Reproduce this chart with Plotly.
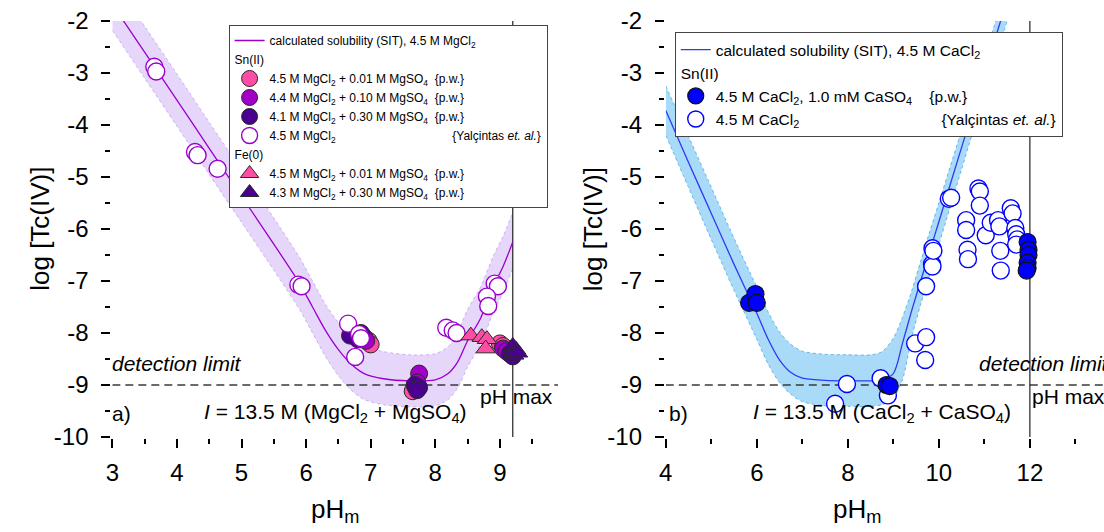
import plotly.graph_objects as go

W, H = 1104, 532

# ---------------- panel a: MgCl2 + MgSO4 systems ----------------
ph_calc_mg = [3.0, 3.5, 4.0, 4.5, 5.0, 5.5, 5.9, 6.1, 6.3, 6.5, 6.7, 6.9, 7.2, 7.6,
              8.0, 8.2, 8.35, 8.5, 8.7, 8.9, 9.05, 9.2]
logtc_calc_mg = [-1.68, -2.6, -3.52, -4.45, -5.37, -6.29, -7.05, -7.5, -7.95, -8.32, -8.6,
                 -8.78, -8.88, -8.92, -8.9, -8.78, -8.55, -8.15, -7.72, -7.1, -6.72, -6.25]
logtc_upper_mg = [-1.18, -2.1, -3.02, -3.95, -4.87, -5.79, -6.55, -7.0, -7.45, -7.8, -8.06,
                  -8.25, -8.36, -8.42, -8.4, -8.26, -7.98, -7.55, -7.12, -6.52, -6.14, -5.68]
logtc_lower_mg = [-2.18, -3.1, -4.02, -4.95, -5.87, -6.79, -7.55, -8.0, -8.45, -8.82, -9.1,
                  -9.28, -9.38, -9.42, -9.4, -9.28, -9.05, -8.65, -8.22, -7.6, -7.22, -6.75]

ph_sn_001 = [6.97, 7.0, 7.65, 7.7, 9.0, 9.05]
logtc_sn_001 = [-8.15, -8.22, -9.12, -9.05, -8.2, -8.25]
ph_sn_010 = [6.9, 6.93, 7.75, 7.72, 9.05, 9.1]
logtc_sn_010 = [-8.08, -8.15, -8.78, -8.95, -8.3, -8.35]
ph_sn_030 = [6.68, 6.85, 6.8, 7.68, 7.75, 7.72, 9.15, 9.2, 9.22]
logtc_sn_030 = [-8.05, -8.0, -8.12, -9.0, -9.05, -9.1, -8.4, -8.45, -8.38]
ph_yal_mg = [3.65, 3.68, 4.28, 4.32, 4.63, 5.88, 5.93, 6.65, 6.82, 6.85, 6.76,
             8.17, 8.27, 8.33, 8.92, 8.97, 8.8, 8.82]
logtc_yal_mg = [-2.88, -2.97, -4.52, -4.58, -4.84, -7.07, -7.1, -7.82, -8.02, -8.1, -8.46,
                -7.9, -7.95, -8.0, -7.05, -7.1, -7.3, -7.48]
ph_fe_001 = [8.55, 8.72, 8.8, 8.78]
logtc_fe_001 = [-8.05, -8.08, -8.12, -8.3]
ph_fe_030 = [9.2, 9.25, 9.22, 9.28]
logtc_fe_030 = [-8.25, -8.32, -8.42, -8.38]

# ---------------- panel b: CaCl2 + CaSO4 systems ----------------
ph_calc_ca = [4.0, 4.5, 5.0, 5.5, 6.0, 6.25, 6.5, 6.75, 7.0, 7.5, 8.0, 8.5, 8.75, 9.0,
              9.2, 9.4, 9.6, 9.8, 10.0, 10.5, 11.0, 11.5]
logtc_calc_ca = [-3.72, -4.72, -5.7, -6.68, -7.62, -8.12, -8.52, -8.76, -8.87, -8.91, -8.92,
                 -8.92, -8.9, -8.78, -8.2, -7.58, -7.0, -6.43, -5.86, -4.43, -3.0, -1.6]
logtc_upper_ca = [-3.25, -4.22, -5.2, -6.18, -7.12, -7.6, -7.98, -8.22, -8.35, -8.41, -8.42,
                  -8.42, -8.36, -8.1, -7.7, -7.2, -6.62, -6.05, -5.5, -4.1, -2.7, -1.3]
logtc_lower_ca = [-4.2, -5.2, -6.2, -7.18, -8.12, -8.6, -8.95, -9.18, -9.32, -9.4, -9.41,
                  -9.41, -9.38, -9.25, -8.9, -8.1, -7.45, -6.88, -6.3, -4.85, -3.4, -2.0]

ph_sn_ca = [5.83, 5.97, 6.0, 8.85, 8.92, 11.95, 11.97, 11.97, 11.95, 11.95, 11.93]
logtc_sn_ca = [-7.42, -7.25, -7.42, -9.0, -9.02, -6.25, -6.4, -6.5, -6.65, -6.75, -6.8]
ph_yal_ca = [7.72, 7.98, 8.72, 8.88, 9.48, 9.72, 9.7, 9.72, 9.85, 9.86, 9.86, 9.88,
             10.22, 10.27, 10.6, 10.6, 10.63, 10.64, 10.87, 10.9, 10.9, 11.03, 11.14,
             11.3, 11.33, 11.35, 11.36, 11.58, 11.62, 11.68, 11.7, 11.72, 11.7]
logtc_yal_ca = [-9.36, -8.98, -8.87, -9.2, -8.2, -8.08, -8.52, -7.1, -6.68, -6.72, -6.37, -6.42,
                -5.42, -5.4, -5.83, -6.02, -6.4, -6.58, -5.22, -5.28, -5.55, -6.12, -5.88,
                -5.83, -5.95, -6.42, -6.8, -5.6, -5.7, -5.98, -6.1, -6.2, -6.3]

DETECTION_LIMIT = -9.0
PH_MAX_MG = 9.2
PH_MAX_CA = 12.0
Y_TICKS = [-10, -9, -8, -7, -6, -5, -4, -3, -2]
Y_TICK_TEXT = ["-10", "-9", "-8", "-7", "-6", "-5", "-4", "-3", "-2"]
X_RANGE_MG = [3.0, 9.9]
X_RANGE_CA = [4.0, 4.0 + 441 / 45.8]

FONT = "Arial, 'Liberation Sans', sans-serif"

PURPLE = "#9A00CC"
LAVENDER = "#E6D6FA"
LAVENDER_EDGE = "#C9AEF2"
PINK = "#FF4DA6"
MID_PURPLE = "#A000C8"
DARK_PURPLE = "#4A0090"
BLUE = "#2E3BF5"
SKY = "#A9DAF7"
SKY_EDGE = "#5DB6EE"
FILL_BLUE = "#0000FF"

NB = "\u00a0"

fig = go.Figure()


def band(ph, lower, upper, fill, edge, xa, ya):
    fig.add_trace(go.Scatter(x=ph, y=lower, mode="lines", xaxis=xa, yaxis=ya,
                             line=dict(color=edge, width=1, dash="dot", shape="spline", smoothing=0.8),
                             showlegend=False, hoverinfo="skip"))
    fig.add_trace(go.Scatter(x=ph, y=upper, mode="lines", xaxis=xa, yaxis=ya, fill="tonexty",
                             fillcolor=fill,
                             line=dict(color=edge, width=1, dash="dot", shape="spline", smoothing=0.8),
                             showlegend=False, hoverinfo="skip"))


def ref_lines(xr, phmax, xa, ya):
    fig.add_trace(go.Scatter(x=xr, y=[DETECTION_LIMIT, DETECTION_LIMIT], mode="lines",
                             xaxis=xa, yaxis=ya, line=dict(color="#3a3a3a", width=1.3, dash="8px,5px"),
                             showlegend=False, hoverinfo="skip", zorder=1))
    fig.add_trace(go.Scatter(x=[phmax, phmax], y=[-10, -2], mode="lines",
                             xaxis=xa, yaxis=ya, line=dict(color="#222", width=1.2),
                             showlegend=False, hoverinfo="skip", zorder=1))


# ---- panel a traces ----
band(ph_calc_mg, logtc_lower_mg, logtc_upper_mg, LAVENDER, LAVENDER_EDGE, "x", "y")
ref_lines(X_RANGE_MG, PH_MAX_MG, "x", "y")
fig.add_trace(go.Scatter(x=ph_calc_mg, y=logtc_calc_mg, mode="lines", xaxis="x", yaxis="y",
                         line=dict(color=PURPLE, width=1.3, shape="spline", smoothing=0.8),
                         name="calculated solubility (SIT), 4.5 M MgCl<sub>2</sub>",
                         legend="legend", zorder=1))

circ = dict(symbol="circle", size=17)
fig.add_trace(go.Scatter(x=ph_sn_001, y=logtc_sn_001, mode="markers", xaxis="x", yaxis="y",
                         marker=dict(**circ, color=PINK, line=dict(color="#2a2a2a", width=1)),
                         name="4.5 M MgCl<sub>2</sub> + 0.01 M MgSO<sub>4</sub>" + NB * 2 + "{p.w.}",
                         legendgroup="sn", legendgrouptitle_text="Sn(II)", legend="legend", zorder=2))
fig.add_trace(go.Scatter(x=ph_sn_010, y=logtc_sn_010, mode="markers", xaxis="x", yaxis="y",
                         marker=dict(**circ, color=MID_PURPLE, line=dict(color="#2a2a2a", width=1)),
                         name="4.4 M MgCl<sub>2</sub> + 0.10 M MgSO<sub>4</sub>" + NB * 2 + "{p.w.}",
                         legendgroup="sn", legend="legend", zorder=2))
fig.add_trace(go.Scatter(x=ph_sn_030, y=logtc_sn_030, mode="markers", xaxis="x", yaxis="y",
                         marker=dict(**circ, color=DARK_PURPLE, line=dict(color="#2a2a2a", width=1)),
                         name="4.1 M MgCl<sub>2</sub> + 0.30 M MgSO<sub>4</sub>" + NB * 2 + "{p.w.}",
                         legendgroup="sn", legend="legend", zorder=2))
fig.add_trace(go.Scatter(x=ph_yal_mg, y=logtc_yal_mg, mode="markers", xaxis="x", yaxis="y",
                         marker=dict(**circ, color="white", line=dict(color=PURPLE, width=1.4)),
                         name="4.5 M MgCl<sub>2</sub>" + NB * 35 + "{Yalçintas <i>et. al.</i>}",
                         legendgroup="sn", legend="legend", zorder=3))
tri = dict(symbol="triangle-up", size=17)
fig.add_trace(go.Scatter(x=ph_fe_001, y=logtc_fe_001, mode="markers", xaxis="x", yaxis="y",
                         marker=dict(**tri, color=PINK, line=dict(color="#2a2a2a", width=1)),
                         name="4.5 M MgCl<sub>2</sub> + 0.01 M MgSO<sub>4</sub>" + NB * 2 + "{p.w.}",
                         legendgroup="fe", legendgrouptitle_text="Fe(0)", legend="legend", zorder=4))
fig.add_trace(go.Scatter(x=ph_fe_030, y=logtc_fe_030, mode="markers", xaxis="x", yaxis="y",
                         marker=dict(**tri, color=DARK_PURPLE, line=dict(color="#2a2a2a", width=1)),
                         name="4.3 M MgCl<sub>2</sub> + 0.30 M MgSO<sub>4</sub>" + NB * 2 + "{p.w.}",
                         legendgroup="fe", legend="legend", zorder=4))

# ---- panel b traces ----
band(ph_calc_ca, logtc_lower_ca, logtc_upper_ca, SKY, SKY_EDGE, "x2", "y2")
ref_lines(X_RANGE_CA, PH_MAX_CA, "x2", "y2")
fig.add_trace(go.Scatter(x=ph_calc_ca, y=logtc_calc_ca, mode="lines", xaxis="x2", yaxis="y2",
                         line=dict(color=BLUE, width=1.3, shape="spline", smoothing=0.8),
                         name="calculated solubility (SIT), 4.5 M CaCl<sub>2</sub>",
                         legend="legend2", zorder=1))
fig.add_trace(go.Scatter(x=ph_sn_ca, y=logtc_sn_ca, mode="markers", xaxis="x2", yaxis="y2",
                         marker=dict(**circ, color=FILL_BLUE, line=dict(color="#111", width=1.2)),
                         name="4.5 M CaCl<sub>2</sub>, 1.0 mM CaSO<sub>4</sub>" + NB * 4 + "{p.w.}",
                         legendgroup="snca", legendgrouptitle_text="Sn(II)", legend="legend2", zorder=3))
fig.add_trace(go.Scatter(x=ph_yal_ca, y=logtc_yal_ca, mode="markers", xaxis="x2", yaxis="y2",
                         marker=dict(**circ, color="white", line=dict(color=FILL_BLUE, width=1.4)),
                         name="4.5 M CaCl<sub>2</sub>" + NB * 33 + "{Yalçintas <i>et. al.</i>}",
                         legendgroup="snca", legend="legend2", zorder=2))

axis_common = dict(showline=True, linewidth=2, linecolor="black", mirror=True,
                   ticks="outside", ticklen=9, tickwidth=1.5, tickcolor="black",
                   showgrid=False, zeroline=False,
                   tickfont=dict(family=FONT, size=24, color="black"))

fig.update_layout(
    width=W, height=H,
    margin=dict(l=0, r=0, t=21, b=95),
    paper_bgcolor="white", plot_bgcolor="white",
    font=dict(family=FONT, color="black"),
    xaxis=dict(domain=[106 / W, 554.5 / W], range=X_RANGE_MG, anchor="y",
               tick0=3, dtick=1, minor=dict(dtick=0.5, ticks="outside", ticklen=5, tickwidth=1.5),
               ticklabelstandoff=4, **axis_common),
    yaxis=dict(domain=[0, 1], range=[-10, -2], anchor="x",
               tickvals=Y_TICKS, ticktext=Y_TICK_TEXT,
               minor=dict(dtick=0.5, ticks="outside", ticklen=5, tickwidth=1.5),
               ticklabelstandoff=8, **axis_common),
    xaxis2=dict(domain=[663 / W, 1.0], range=X_RANGE_CA, anchor="y2",
                tick0=4, dtick=2, minor=dict(dtick=1, ticks="outside", ticklen=5, tickwidth=1.5),
                ticklabelstandoff=4, **axis_common),
    yaxis2=dict(domain=[0, 1], range=[-10, -2], anchor="x2",
                tickvals=Y_TICKS, ticktext=Y_TICK_TEXT,
                minor=dict(dtick=0.5, ticks="outside", ticklen=5, tickwidth=1.5),
                ticklabelstandoff=8, **{**axis_common, "mirror": False}),
    legend=dict(x=223 / W, y=1 - 4 / 416, xanchor="left", yanchor="top",
                bgcolor="white", bordercolor="#444", borderwidth=1,
                font=dict(family=FONT, size=12, color="black"),
                grouptitlefont=dict(family=FONT, size=12, color="black"),
                tracegroupgap=0, traceorder="grouped", itemsizing="trace"),
    legend2=dict(x=672 / W, y=1 - 11 / 416, xanchor="left", yanchor="top",
                 bgcolor="white", bordercolor="#444", borderwidth=1,
                 font=dict(family=FONT, size=15.5, color="black"),
                 grouptitlefont=dict(family=FONT, size=15.5, color="black"),
                 tracegroupgap=0, traceorder="grouped", itemsizing="trace"),
)

ann_font = dict(family=FONT, size=21, color="black")
notes = [
    # panel a
    dict(x=3.0, y=-8.58, xref="x", yref="y", text="<i>detection limit</i>", xanchor="left", xshift=-2),
    dict(x=3.0, y=-9.54, xref="x", yref="y", text="a)", xanchor="left", xshift=-2),
    dict(x=6.45, y=-9.54, xref="x", yref="y",
         text="<i>I</i> = 13.5 M (MgCl<sub>2</sub> + MgSO<sub>4</sub>)", xanchor="center"),
    dict(x=8.66, y=-9.22, xref="x", yref="y", text="pH max", xanchor="left"),
    # panel b
    dict(x=10.84, y=-8.58, xref="x2", yref="y2", text="<i>detection limit</i>", xanchor="left"),
    dict(x=4.02, y=-9.54, xref="x2", yref="y2", text="b)", xanchor="left"),
    dict(x=8.75, y=-9.54, xref="x2", yref="y2",
         text="<i>I</i> = 13.5 M (CaCl<sub>2</sub> + CaSO<sub>4</sub>)", xanchor="center"),
    dict(x=12.0, y=-9.22, xref="x2", yref="y2", text="pH max", xanchor="left"),
]
for n in notes:
    fig.add_annotation(**n, showarrow=False, font=ann_font, yanchor="middle")

title_font = dict(family=FONT, size=26, color="black")
for xp in (33 / W, 590 / W):
    fig.add_annotation(x=xp, y=0.5, xref="paper", yref="paper", text="log [Tc(IV)]",
                       textangle=-90, showarrow=False, font=title_font,
                       xanchor="center", yanchor="middle")
for xp in (330 / W, 855 / W):
    fig.add_annotation(x=xp, y=(437 - 510) / 416, xref="paper", yref="paper",
                       text="pH<sub>m</sub>", showarrow=False, font=title_font,
                       xanchor="center", yanchor="middle")

fig.write_html("out.html")
